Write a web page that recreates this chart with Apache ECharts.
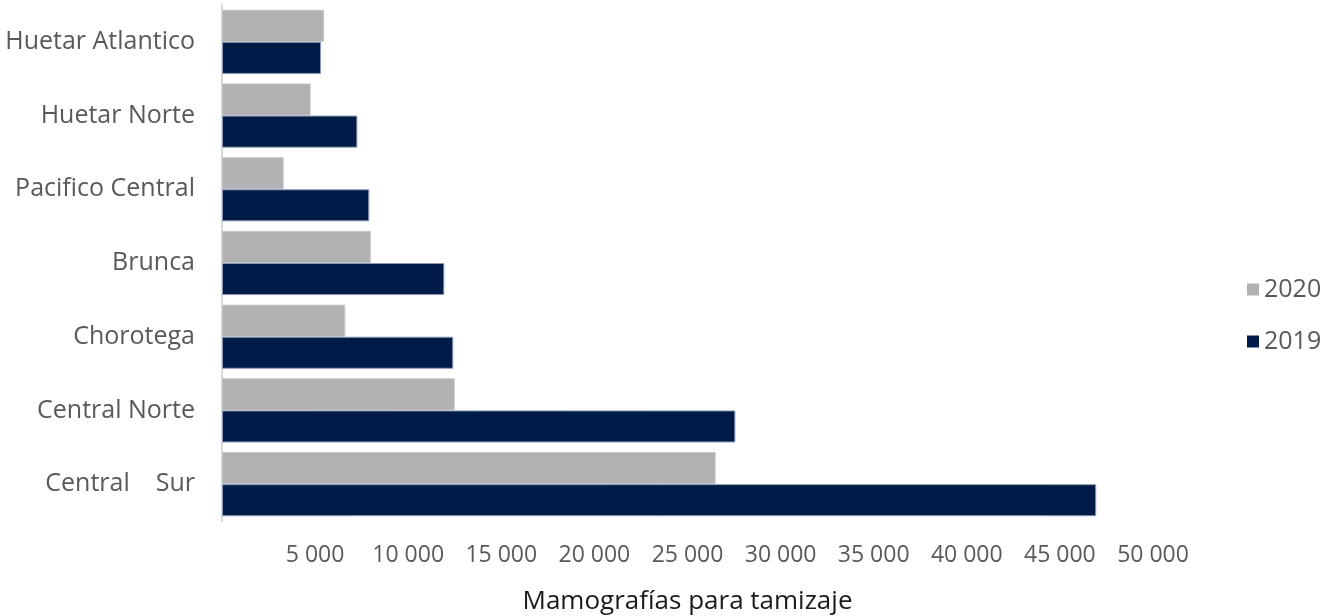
<!DOCTYPE html>
<html>
<head>
<meta charset="utf-8">
<script src="https://cdn.jsdelivr.net/npm/echarts@6/dist/echarts.min.js"></script>
<style>
  html, body { margin: 0; padding: 0; background: #ffffff; }
  #chart { width: 1338px; height: 616px; }
</style>
</head>
<body>
<div id="chart"></div>
<script>
// Regiones de salud (de arriba hacia abajo)
const regiones = ['Huetar Atlantico', 'Huetar Norte', 'Pacifico Central', 'Brunca', 'Chorotega', 'Central Norte', 'Central    Sur'];
// Mamografías para tamizaje por año
const valores2020 = [5480, 4760, 3310, 7990, 6620, 12500, 26510];
const valores2019 = [5320, 7270, 7910, 11940, 12420, 27570, 46950];
const anios = ['2020', '2019'];
const ejeMax = 50000;
const ejeIntervalo = 5000;

const FONT = "'Open Sans', 'Noto Sans', sans-serif";
const GRIS = '#b1b1b3';
const AZUL = '#001b47';

function miles(v) {
  return String(v).replace(/\B(?=(\d{3})+(?!\d))/g, ' ');
}

const chart = echarts.init(document.getElementById('chart'));
chart.setOption({
  animation: false,
  textStyle: { fontFamily: FONT },
  grid: { left: 222, right: 185, top: 5, bottom: 95, outerBoundsMode: 'none', containLabel: false },
  legend: {
    orient: 'vertical',
    left: 1242,
    top: 272,
    itemGap: 27,
    itemWidth: 12,
    itemHeight: 12,
    icon: 'rect',
    data: anios,
    itemStyle: { borderWidth: 0 },
    textStyle: { color: '#595959', fontSize: 25, fontFamily: FONT }
  },
  xAxis: {
    type: 'value',
    min: 0,
    max: ejeMax,
    interval: ejeIntervalo,
    name: 'Mamografías para tamizaje',
    nameLocation: 'middle',
    nameGap: 68,
    nameTextStyle: { color: '#1a1a1a', fontSize: 26, fontFamily: FONT },
    axisLine: { show: false },
    axisTick: { show: false },
    splitLine: { show: false },
    axisLabel: {
      showMinLabel: false,
      margin: 23,
      color: '#595959',
      fontSize: 23,
      fontFamily: FONT,
      formatter: miles
    }
  },
  yAxis: {
    type: 'category',
    inverse: true,
    data: regiones,
    axisLine: { show: true, lineStyle: { color: '#d9d9d9', width: 2 } },
    axisTick: { show: false },
    axisLabel: {
      margin: 27,
      color: '#595959',
      fontSize: 25,
      fontFamily: FONT
    }
  },
  series: [
    {
      name: anios[0],
      type: 'bar',
      data: valores2020,
      barGap: '0%',
      barCategoryGap: '13%',
      itemStyle: { color: GRIS, borderColor: '#c4c4c6', borderWidth: 1 }
    },
    {
      name: anios[1],
      type: 'bar',
      data: valores2019,
      barGap: '0%',
      barCategoryGap: '13%',
      itemStyle: { color: AZUL, borderColor: '#8b9ab5', borderWidth: 1 }
    }
  ]
});
</script>
</body>
</html>
